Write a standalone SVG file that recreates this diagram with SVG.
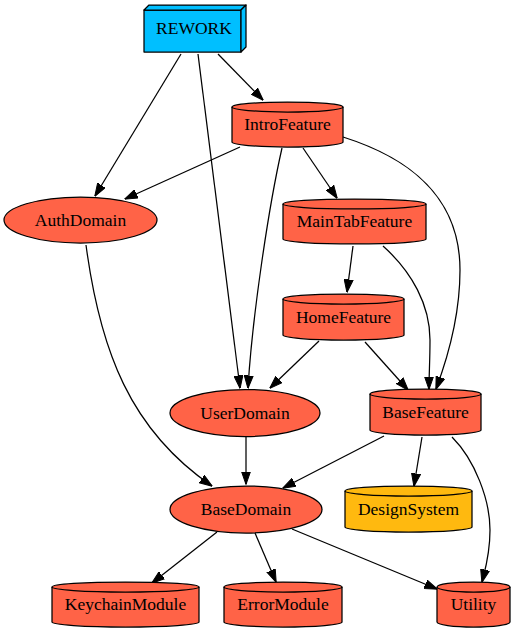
<svg xmlns="http://www.w3.org/2000/svg" width="515" height="635" viewBox="0 0 515 635">
<defs>
<marker id="ah" viewBox="0 0 13 10" refX="12.5" refY="5" markerWidth="13" markerHeight="10" markerUnits="userSpaceOnUse" orient="auto">
<path d="M0,0.5 L13,5 L0,9.5 z" fill="#000" stroke="#000" stroke-width="1"/>
</marker>
</defs>
<style>
.n{fill:#ff6347;stroke:#000;stroke-width:1.25}
.b{fill:#00bfff;stroke:#000;stroke-width:1.25;stroke-linejoin:round}
.y{fill:#ffb90f;stroke:#000;stroke-width:1.25}
.l{fill:none;stroke:#000;stroke-width:1.25}
.e{fill:none;stroke:#000;stroke-width:1.25;marker-end:url(#ah)}
text{font-family:"Liberation Serif","Times New Roman",serif;font-size:17.5px;text-anchor:middle;fill:#000}
</style>
<rect width="515" height="635" fill="#fff"/>
<g id="edges">
<path class="e" d="M218,54 L263,100"/>
<path class="e" d="M181,54 L95,196"/>
<path class="e" d="M198,54 L240,388"/>
<path class="e" d="M240,147 L125,199"/>
<path class="e" d="M282,148 C268,210 252,320 248,388"/>
<path class="e" d="M303,148 L337,198"/>
<path class="e" d="M343,137 C400,155 460,190 460,270 C460,320 445,365 436,389"/>
<path class="e" d="M353,246 L347,292"/>
<path class="e" d="M383,246 C412,272 430,305 430,340 C430,360 429,375 429,389"/>
<path class="e" d="M319,341 L270,388"/>
<path class="e" d="M365,342 L408,390"/>
<path class="e" d="M86,245 C100,350 130,430 212,486"/>
<path class="e" d="M246,437 L246,484"/>
<path class="e" d="M384,436 L283,488"/>
<path class="e" d="M422,437 L414,486"/>
<path class="e" d="M452,437 C475,460 490,500 490,530 C490,555 485,570 482,582"/>
<path class="e" d="M217,532 L152,583"/>
<path class="e" d="M255,533 L276,582"/>
<path class="e" d="M292,529 L437,589"/>
</g>
<g id="REWORK">
<rect class="b" x="144" y="10" width="97" height="42"/>
<path class="b" d="M144,10 L149,5 L246,5 L241,10 Z"/>
<path class="b" d="M241,10 L246,5 L246,47 L241,52 Z"/>
<text x="194" y="34">REWORK</text>
</g>
<g id="IntroFeature">
<path class="n" d="M232,107 A55.5,5 0 0 1 343,107 L343,142 A55.5,5 0 0 1 232,142 Z"/>
<path class="l" d="M232,107 A55.5,5 0 0 0 343,107"/>
<text x="287.5" y="130">IntroFeature</text>
</g>
<g id="AuthDomain">
<ellipse class="n" cx="80.5" cy="220" rx="76.5" ry="23"/>
<text x="80.5" y="226">AuthDomain</text>
</g>
<g id="MainTabFeature">
<path class="n" d="M283,204 A71.5,5 0 0 1 426,204 L426,239 A71.5,5 0 0 1 283,239 Z"/>
<path class="l" d="M283,204 A71.5,5 0 0 0 426,204"/>
<text x="354.5" y="227">MainTabFeature</text>
</g>
<g id="HomeFeature">
<path class="n" d="M283,299 A60.5,5 0 0 1 404,299 L404,335 A60.5,5 0 0 1 283,335 Z"/>
<path class="l" d="M283,299 A60.5,5 0 0 0 404,299"/>
<text x="343.5" y="323">HomeFeature</text>
</g>
<g id="UserDomain">
<ellipse class="n" cx="245" cy="413" rx="75" ry="23.5"/>
<text x="245" y="419">UserDomain</text>
</g>
<g id="BaseFeature">
<path class="n" d="M370,394 A55.5,5 0 0 1 481,394 L481,430 A55.5,5 0 0 1 370,430 Z"/>
<path class="l" d="M370,394 A55.5,5 0 0 0 481,394"/>
<text x="425.5" y="418">BaseFeature</text>
</g>
<g id="BaseDomain">
<ellipse class="n" cx="246" cy="509.5" rx="76" ry="23.5"/>
<text x="246" y="515">BaseDomain</text>
</g>
<g id="DesignSystem">
<path class="y" d="M345,491 A63.5,5 0 0 1 472,491 L472,527 A63.5,5 0 0 1 345,527 Z"/>
<path class="l" d="M345,491 A63.5,5 0 0 0 472,491"/>
<text x="408.5" y="515">DesignSystem</text>
</g>
<g id="KeychainModule">
<path class="n" d="M52,587 A73.5,5 0 0 1 199,587 L199,622 A73.5,5 0 0 1 52,622 Z"/>
<path class="l" d="M52,587 A73.5,5 0 0 0 199,587"/>
<text x="125.5" y="610">KeychainModule</text>
</g>
<g id="ErrorModule">
<path class="n" d="M224,587 A59,5 0 0 1 342,587 L342,622 A59,5 0 0 1 224,622 Z"/>
<path class="l" d="M224,587 A59,5 0 0 0 342,587"/>
<text x="283" y="610">ErrorModule</text>
</g>
<g id="Utility">
<path class="n" d="M437,587 A36.5,5 0 0 1 510,587 L510,622 A36.5,5 0 0 1 437,622 Z"/>
<path class="l" d="M437,587 A36.5,5 0 0 0 510,587"/>
<text x="473.5" y="610">Utility</text>
</g>
</svg>
